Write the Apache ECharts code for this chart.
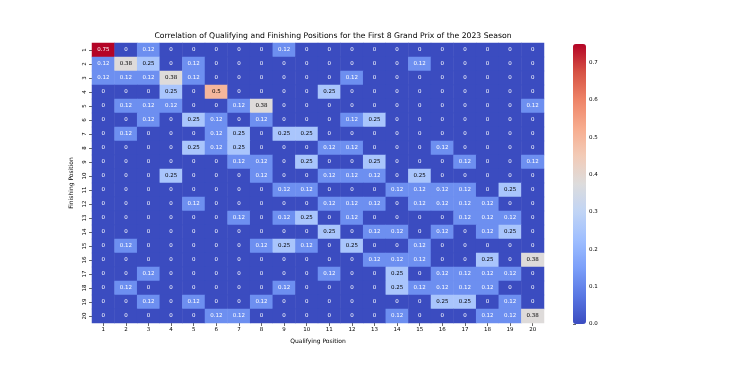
<!DOCTYPE html>
<html>
<head>
<meta charset="utf-8">
<script src="https://cdn.jsdelivr.net/npm/echarts@6/dist/echarts.min.js"></script>
<style>html,body{margin:0;padding:0;background:#fff;}#c{width:730px;height:365px;}</style>
</head>
<body>
<div id="c"></div>
<script>
var qualifying = ['1','2','3','4','5','6','7','8','9','10','11','12','13','14','15','16','17','18','19','20'];
var finishing = ['1','2','3','4','5','6','7','8','9','10','11','12','13','14','15','16','17','18','19','20'];
var colorbarTicks = [0.0, 0.1, 0.2, 0.3, 0.4, 0.5, 0.6, 0.7];
var titleText = 'Correlation of Qualifying and Finishing Positions for the First 8 Grand Prix of the 2023 Season';

// rows = finishing position 1..20, columns = qualifying position 1..20
var row1  = [0.75,0,0.12,0,0,0,0,0,0.12,0,0,0,0,0,0,0,0,0,0,0];
var row2  = [0.12,0.38,0.25,0,0.12,0,0,0,0,0,0,0,0,0,0.12,0,0,0,0,0];
var row3  = [0.12,0.12,0.12,0.38,0.12,0,0,0,0,0,0,0.12,0,0,0,0,0,0,0,0];
var row4  = [0,0,0,0.25,0,0.5,0,0,0,0,0.25,0,0,0,0,0,0,0,0,0];
var row5  = [0,0.12,0.12,0.12,0,0,0.12,0.38,0,0,0,0,0,0,0,0,0,0,0,0.12];
var row6  = [0,0,0.12,0,0.25,0.12,0,0.12,0,0,0,0.12,0.25,0,0,0,0,0,0,0];
var row7  = [0,0.12,0,0,0,0.12,0.25,0,0.25,0.25,0,0,0,0,0,0,0,0,0,0];
var row8  = [0,0,0,0,0.25,0.12,0.25,0,0,0,0.12,0.12,0,0,0,0.12,0,0,0,0];
var row9  = [0,0,0,0,0,0,0.12,0.12,0,0.25,0,0,0.25,0,0,0,0.12,0,0,0.12];
var row10 = [0,0,0,0.25,0,0,0,0.12,0,0,0.12,0.12,0.12,0,0.25,0,0,0,0,0];
var row11 = [0,0,0,0,0,0,0,0,0.12,0.12,0,0,0,0.12,0.12,0.12,0.12,0,0.25,0];
var row12 = [0,0,0,0,0.12,0,0,0,0,0,0.12,0.12,0.12,0,0.12,0.12,0.12,0.12,0,0];
var row13 = [0,0,0,0,0,0,0.12,0,0.12,0.25,0,0.12,0,0,0,0,0.12,0.12,0.12,0];
var row14 = [0,0,0,0,0,0,0,0,0,0,0.25,0,0.12,0.12,0,0.12,0,0.12,0.25,0];
var row15 = [0,0.12,0,0,0,0,0,0.12,0.25,0.12,0,0.25,0,0,0.12,0,0,0,0,0];
var row16 = [0,0,0,0,0,0,0,0,0,0,0,0,0.12,0.12,0.12,0,0,0.25,0,0.38];
var row17 = [0,0,0.12,0,0,0,0,0,0,0,0.12,0,0,0.25,0,0.12,0.12,0.12,0.12,0];
var row18 = [0,0.12,0,0,0,0,0,0,0.12,0,0,0,0,0.25,0.12,0.12,0.12,0.12,0,0];
var row19 = [0,0,0.12,0,0.12,0,0,0.12,0,0,0,0,0,0,0,0.25,0.25,0,0.12,0];
var row20 = [0,0,0,0,0,0.12,0.12,0,0,0,0,0,0,0.12,0,0,0,0.12,0.12,0.38];
var rows = [row1,row2,row3,row4,row5,row6,row7,row8,row9,row10,row11,row12,row13,row14,row15,row16,row17,row18,row19,row20];

var vmin = 0, vmax = 0.75;
var coolwarm = ['#3b4cc0','#5977e3','#7b9ff9','#9ebeff','#c0d4f5','#dddcdc','#f2cbb7','#f7ac8e','#ee8468','#d65244','#b40426'];

var data = [];
rows.forEach(function (r, yi) {
  r.forEach(function (v, xi) {
    var dark = (v > 0.2 && v < 0.6);
    data.push({ value: [xi, yi, v], label: { color: dark ? '#000000' : '#ffffff' } });
  });
});

var FONT = 'DejaVu Sans';
var chart = echarts.init(document.getElementById('c'), null, { renderer: 'canvas' });
chart.setOption({
  backgroundColor: '#ffffff',
  animation: false,
  textStyle: { fontFamily: FONT },
  graphic: [{
    type: 'text', x: 333, y: 36,
    style: { text: titleText, textAlign: 'center', textVerticalAlign: 'middle', font: '7.7px "DejaVu Sans"', fill: '#000' }
  }],
  grid: [
    { left: 92, top: 43, width: 452, height: 280 },
    { left: 573, top: 44, width: 13, height: 280 }
  ],
  xAxis: [{
    type: 'category', data: qualifying, gridIndex: 0,
    name: 'Qualifying Position', nameLocation: 'middle', nameGap: 15,
    nameTextStyle: { fontSize: 6, color: '#000', fontFamily: FONT },
    axisLine: { show: false },
    axisTick: { show: true, alignWithLabel: true, length: 3, lineStyle: { color: '#000', width: 0.6 } },
    axisLabel: { fontSize: 5.5, color: '#000', margin: 4, fontFamily: FONT },
    splitLine: { show: false }
  }, {
    type: 'value', gridIndex: 1, show: false, min: 0, max: 1
  }],
  yAxis: [{
    type: 'category', data: finishing, gridIndex: 0, inverse: true,
    name: 'Finishing Position', nameLocation: 'middle', nameGap: 13,
    nameTextStyle: { fontSize: 6, color: '#000', fontFamily: FONT },
    axisLine: { show: false },
    axisTick: { show: true, alignWithLabel: true, length: 3, lineStyle: { color: '#000', width: 0.6 } },
    axisLabel: { fontSize: 5.5, color: '#000', margin: 4, rotate: 90, fontFamily: FONT },
    splitLine: { show: false }
  }, {
    type: 'value', gridIndex: 1, position: 'right', min: vmin, max: vmax, interval: 0.1,
    axisLine: { show: false },
    axisTick: { show: true, length: 3, lineStyle: { color: '#000', width: 0.6 } },
    axisLabel: {
      fontSize: 5.5, color: '#000', margin: 3, fontFamily: FONT, showMaxLabel: false,
      formatter: function (v) {
        for (var i = 0; i < colorbarTicks.length; i++) { if (Math.abs(colorbarTicks[i] - v) < 1e-9) return colorbarTicks[i].toFixed(1); }
        return '';
      }
    },
    splitLine: { show: false }
  }],
  visualMap: {
    type: 'continuous', min: vmin, max: vmax, seriesIndex: 0,
    left: 573, top: 44, itemWidth: 13, itemHeight: 280, padding: 0,
    calculable: false, realtime: false, hoverLink: false,
    handleSize: 0, indicatorSize: 0,
    handleStyle: { opacity: 0 }, indicatorStyle: { opacity: 0 },
    text: null, showLabel: false,
    textStyle: { fontSize: 1, color: 'rgba(0,0,0,0)' },
    inRange: { color: coolwarm }
  },
  series: [{
    type: 'heatmap', xAxisIndex: 0, yAxisIndex: 0,
    data: data,
    label: {
      show: true, fontSize: 5.5, fontFamily: FONT,
      formatter: function (p) { return String(p.value[2]); }
    },
    itemStyle: { borderWidth: 0 },
    emphasis: { disabled: true }
  }]
});
</script>
</body>
</html>
